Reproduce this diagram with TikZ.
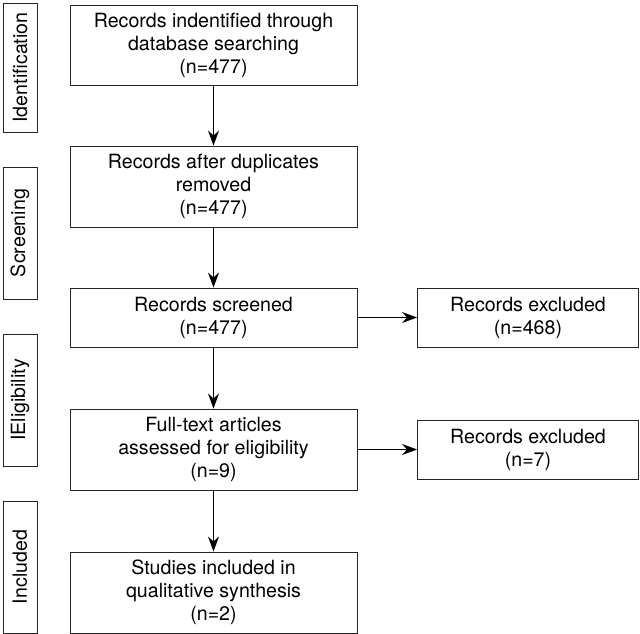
\documentclass[tikz,border=0pt]{standalone}
\usepackage{fontspec}
\setmainfont{TeX Gyre Heros}
\usetikzlibrary{arrows.meta}
\begin{document}
\begin{tikzpicture}[x=1pt,y=-1pt,
  box/.style={draw=black!85,line width=0.9pt,minimum width=287pt,align=center,inner sep=0pt,
    font=\fontsize{19.6}{23}\selectfont},
  sidebox/.style={draw=black!85,line width=0.9pt,minimum width=221pt,minimum height=59pt,align=center,inner sep=0pt,
    font=\fontsize{19.6}{23}\selectfont},
  stagebox/.style={draw=black!85,line width=0.9pt,minimum width=129pt,minimum height=34pt,inner sep=0pt,
    rotate=90,font=\fontsize{19.6}{23}\selectfont},
  arr/.style={-{Stealth[length=15pt,width=11pt,inset=5pt]},line width=1pt,black}]
\useasboundingbox (0,0) rectangle (640,634);
\node[stagebox] (id) at (20,67.5) {Identification};
\node[stagebox,minimum width=132pt] (sc) at (20,233) {Screening};
\node[stagebox,minimum width=132pt] (el) at (20,400) {IEligibility};
\node[stagebox,minimum width=132pt] (in) at (20,567) {Included};
\node[box,minimum height=80pt] (b1) at (213.5,45) {Records indentified through\\database searching\\(n=477)};
\node[box,minimum height=81pt] (b2) at (213.5,186.5) {Records after duplicates\\removed\\(n=477)};
\node[box,minimum height=59pt] (b3) at (213.5,317.5) {Records screened\\(n=477)};
\node[box,minimum height=81pt] (b4) at (213.5,449.5) {Full-text articles\\assessed for eligibility\\(n=9)};
\node[box,minimum height=81pt] (b5) at (213.5,592.5) {Studies included in\\qualitative synthesis\\(n=2)};
\node[sidebox] (r1) at (528,317.5) {Records excluded\\(n=468)};
\node[sidebox] (r2) at (528,449.5) {Records excluded\\(n=7)};
\draw[arr] (b1) -- (b2);
\draw[arr] (b2) -- (b3);
\draw[arr] (b3) -- (b4);
\draw[arr] (b4) -- (b5);
\draw[arr] (b3) -- (r1);
\draw[arr] (b4.east) -- (r2.west |- b4.east);
\end{tikzpicture}
\end{document}
